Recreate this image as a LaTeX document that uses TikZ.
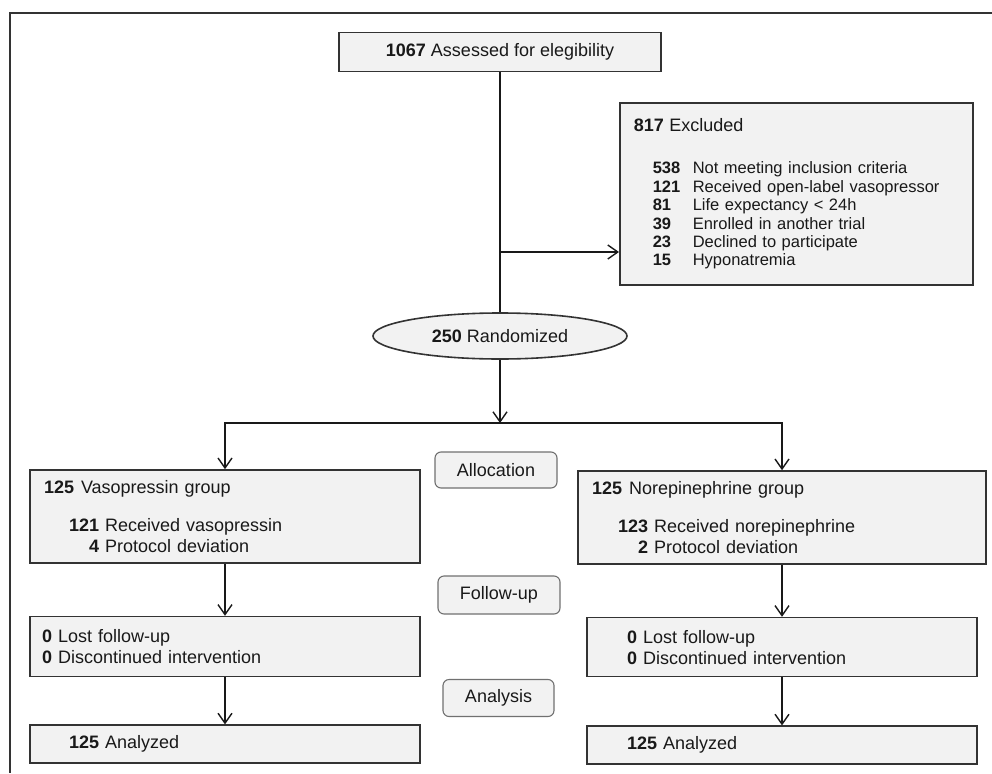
\documentclass[tikz,border=0pt]{standalone}
\usepackage{fontspec}
\setmainfont{Liberation Sans}
\usepackage{color}
\definecolor{boxfill}{RGB}{242, 242, 242}
\definecolor{boxline}{RGB}{51, 51, 51}
\definecolor{stageline}{RGB}{112, 112, 112}
\definecolor{ink}{RGB}{25, 25, 25}
\usepackage{tikz}
\usetikzlibrary{arrows.meta}
\usetikzlibrary{positioning,shapes.geometric,calc}
\tikzstyle{flowbox} = [rectangle,fill=boxfill,draw=boxline,line width=1.6pt,inner ysep=0pt,align=left,text=ink,font=\fontsize{18}{21}\selectfont]
\tikzstyle{stage} = [rectangle,rounded corners=6pt,fill=boxfill,draw=stageline,line width=1.1pt,inner sep=0pt,text=ink,font=\fontsize{18}{21}\selectfont]
\tikzstyle{line_flow} = [draw=ink, line width=1.4pt]
\tikzstyle{arrow_flow} = [->, draw=ink, line width=1.4pt]

\begin{document}
\begin{tikzpicture}[x=1pt,y=-1pt,>={Straight Barb[length=10pt,width=14pt]}]
    \useasboundingbox (0,0) rectangle (992,773);
    \draw[draw=boxline, line width=1.6pt] (992,13) -- (10,13) -- (10,773);

      \node[flowbox,minimum width=322pt,minimum height=39pt] (assess) at (500,52) {\textbf{1067} Assessed for elegibility};
      \node[flowbox,anchor=north west,inner xsep=14pt,text width=325pt,minimum height=182pt,font=\fontsize{16.5}{18.4}\selectfont] (excl) at (619,102) {%
        {\fontsize{18}{21}\selectfont\textbf{817} Excluded}\\[24pt]
        \hspace*{19pt}\makebox[40pt][l]{\textbf{538}}Not meeting inclusion criteria\\
        \hspace*{19pt}\makebox[40pt][l]{\textbf{121}}Received open-label vasopressor\\
        \hspace*{19pt}\makebox[40pt][l]{\textbf{81}}Life expectancy < 24h\\
        \hspace*{19pt}\makebox[40pt][l]{\textbf{39}}Enrolled in another trial\\
        \hspace*{19pt}\makebox[40pt][l]{\textbf{23}}Declined to participate\\
        \hspace*{19pt}\makebox[40pt][l]{\textbf{15}}Hyponatremia\\[4pt]};
      \node[flowbox,ellipse,align=center,minimum width=254pt,minimum height=46pt] (rand) at (500,336) {\textbf{250} Randomized};

      \node[flowbox,inner xsep=14pt,text width=362pt,minimum height=93pt] (vaso) at (225,516.5) {%
        \textbf{125}\hspace{7pt}Vasopressin group\\[17pt]
        \hspace*{25pt}\textbf{121} Received vasopressin\\
        \hspace*{25pt}\textbf{\phantom{12}4} Protocol deviation};
      \node[flowbox,inner xsep=12pt,text width=366pt,minimum height=60pt,below=52pt of vaso] (lfol) {%
        \textbf{0} Lost follow-up\\
        \textbf{0} Discontinued intervention};
      \node[flowbox,inner xsep=39pt,text width=312pt,minimum height=38pt,below=47pt of lfol] (lana) {\textbf{125} Analyzed};

      \node[flowbox,inner xsep=14pt,text width=380pt,minimum height=93pt] (nore) at (782,517.5) {%
        \textbf{125}\hspace{7pt}Norepinephrine group\\[17pt]
        \hspace*{26pt}\textbf{123} Received norepinephrine\\
        \hspace*{26pt}\textbf{\phantom{12}2} Protocol deviation};
      \node[flowbox,inner xsep=40pt,text width=310pt,minimum height=59pt,below=52pt of nore] (rfol) {%
        \textbf{0} Lost follow-up\\
        \textbf{0} Discontinued intervention};
      \node[flowbox,inner xsep=40pt,text width=310pt,minimum height=38pt,below=48pt of rfol] (rana) {\textbf{125} Analyzed};

      \node[stage,minimum width=122pt,minimum height=36pt] (alloc) at (496,470) {Allocation};
      \node[stage,minimum width=122pt,minimum height=38pt] (follow) at (499,595) {Follow-up};
      \node[stage,minimum width=111pt,minimum height=37pt] (analysis) at (498.5,698) {Analysis};

      \coordinate (branch) at (500,252);
      \coordinate (split) at (500,423);

      \path[line_flow] (assess) -- (rand);
      \path[arrow_flow] (branch) -- (branch -| excl.west);
      \path[arrow_flow] (rand) -- (split);
      \path[arrow_flow] (split) -| (vaso.north);
      \path[arrow_flow] (split) -| (nore.north);
      \path[arrow_flow]
        \foreach \a/\b in {vaso/lfol,lfol/lana,nore/rfol,rfol/rana} {
          (\a) edge (\b)
        } ;
    \end{tikzpicture}
\end{document}
